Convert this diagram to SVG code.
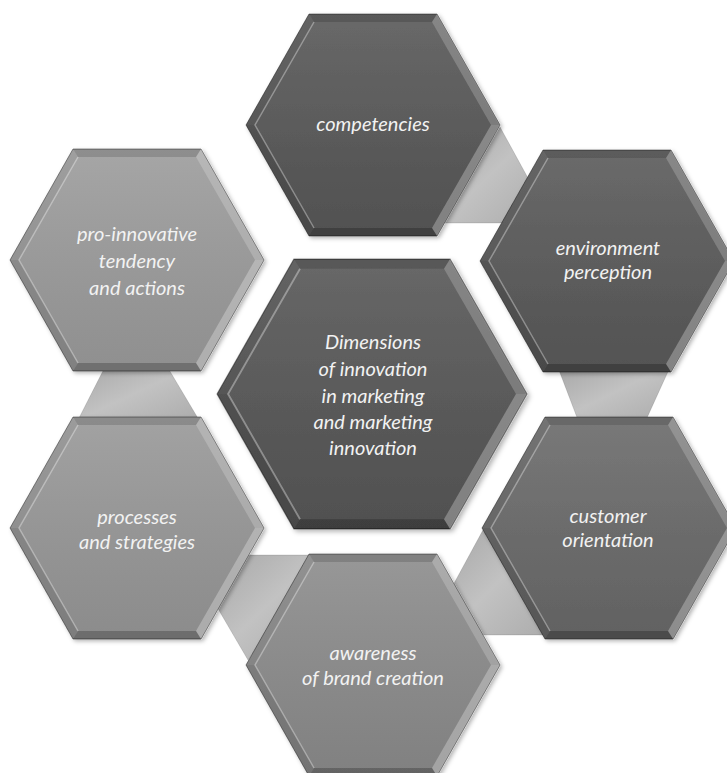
<svg xmlns="http://www.w3.org/2000/svg" xmlns:xlink="http://www.w3.org/1999/xlink" width="727" height="773" viewBox="0 0 727 773">
<defs>
<style>
.hex{stroke:rgba(0,0,0,0.45);stroke-width:1}
.lbl{font-family:Lato,"Open Sans","Liberation Sans",sans-serif;font-style:italic;font-size:20px;fill:#f2f2f2;text-anchor:middle}
.conn{fill:url(#connGrad);stroke:rgba(0,0,0,0.12);stroke-width:1}
</style>
<linearGradient id="shade" x1="0" y1="0" x2="0" y2="1">
<stop offset="0" stop-color="#fff" stop-opacity="0.10"/>
<stop offset="1" stop-color="#000" stop-opacity="0.08"/>
</linearGradient>
<linearGradient id="connGrad" x1="0" y1="0" x2="1" y2="1">
<stop offset="0" stop-color="#a6a6a6"/>
<stop offset="0.5" stop-color="#c2c2c2"/>
<stop offset="1" stop-color="#acacac"/>
</linearGradient>
<filter id="shadow" x="-10%" y="-10%" width="120%" height="120%">
<feDropShadow dx="2" dy="2" stdDeviation="2" flood-color="#000" flood-opacity="0.3"/>
</filter>
<g id="bevel">
<polygon points="-127,0 -64,-111 64,-111 127,0 64,111 -64,111" fill="url(#shade)"/>
<polygon points="-64,-111 64,-111 59,-103 -59,-103" fill="rgba(0,0,0,0.14)"/>
<polygon points="64,-111 127,0 118,0 59,-103" fill="rgba(255,255,255,0.20)"/>
<polygon points="127,0 64,111 59,103 118,0" fill="rgba(255,255,255,0.28)"/>
<polygon points="64,111 -64,111 -59,103 59,103" fill="rgba(0,0,0,0.22)"/>
<polygon points="-64,111 -127,0 -118,0 -59,103" fill="rgba(0,0,0,0.10)"/>
<polygon points="-127,0 -64,-111 -59,-103 -118,0" fill="rgba(0,0,0,0.04)"/>
<polyline points="-59,103 -118,0 -59,-103" fill="none" stroke="rgba(255,255,255,0.35)" stroke-width="1.5"/>
<polyline points="64,-111 127,0 64,111" fill="none" stroke="rgba(255,255,255,0.22)" stroke-width="1.5"/>
<polygon points="-127,0 -64,-111 64,-111 127,0 64,111 -64,111" fill="none" stroke="rgba(0,0,0,0.4)" stroke-width="1"/>
</g>
<polygon id="hexShape" points="-127,0 -64,-111 64,-111 127,0 64,111 -64,111"/>
</defs>
<rect width="727" height="773" fill="#ffffff"/>
<g id="connectors">
<polygon class="conn" points="500,127 540,200 515,223 440,223"/>
<polygon class="conn" points="557,365 671,365 646,420 578,420"/>
<polygon class="conn" points="483,530 445,600 470,635 550,635"/>
<polygon class="conn" points="240,555 320,555 248,660 210,595"/>
<polygon class="conn" points="107,363 165,363 199,420 78,420"/>
</g>
<g id="node-competencies">
<g transform="translate(373,125)" filter="url(#shadow)"><use href="#hexShape" fill="#585858"/><use href="#bevel"/></g>
<text class="lbl" x="373" y="131">competencies</text>
</g>
<g id="node-environment">
<g transform="translate(607,261)" filter="url(#shadow)"><use href="#hexShape" fill="#5a5a5a"/><use href="#bevel"/></g>
<text class="lbl" x="608" y="255">environment</text>
<text class="lbl" x="608" y="279">perception</text>
</g>
<g id="node-customer">
<g transform="translate(609,528)" filter="url(#shadow)"><use href="#hexShape" fill="#6a6a6a"/><use href="#bevel"/></g>
<text class="lbl" x="608" y="523">customer</text>
<text class="lbl" x="608" y="547">orientation</text>
</g>
<g id="node-awareness">
<g transform="translate(373,665)" filter="url(#shadow)"><use href="#hexShape" fill="#8c8c8c"/><use href="#bevel"/></g>
<text class="lbl" x="373" y="660">awareness</text>
<text class="lbl" x="373" y="685">of brand creation</text>
</g>
<g id="node-processes">
<g transform="translate(137,528)" filter="url(#shadow)"><use href="#hexShape" fill="#989898"/><use href="#bevel"/></g>
<text class="lbl" x="137" y="524">processes</text>
<text class="lbl" x="137" y="549">and strategies</text>
</g>
<g id="node-proinnovative">
<g transform="translate(137,260)" filter="url(#shadow)"><use href="#hexShape" fill="#9c9c9c"/><use href="#bevel"/></g>
<text class="lbl" x="137" y="241">pro-innovative</text>
<text class="lbl" x="137" y="268">tendency</text>
<text class="lbl" x="137" y="295">and actions</text>
</g>
<g id="node-center">
<g transform="translate(372,394) scale(1.22,1.216)" filter="url(#shadow)"><use href="#hexShape" fill="#575757"/><use href="#bevel"/></g>
<text class="lbl" x="373" y="349">Dimensions</text>
<text class="lbl" x="373" y="376">of innovation</text>
<text class="lbl" x="373" y="403">in marketing</text>
<text class="lbl" x="373" y="429">and marketing</text>
<text class="lbl" x="373" y="455">innovation</text>
</g>
</svg>
